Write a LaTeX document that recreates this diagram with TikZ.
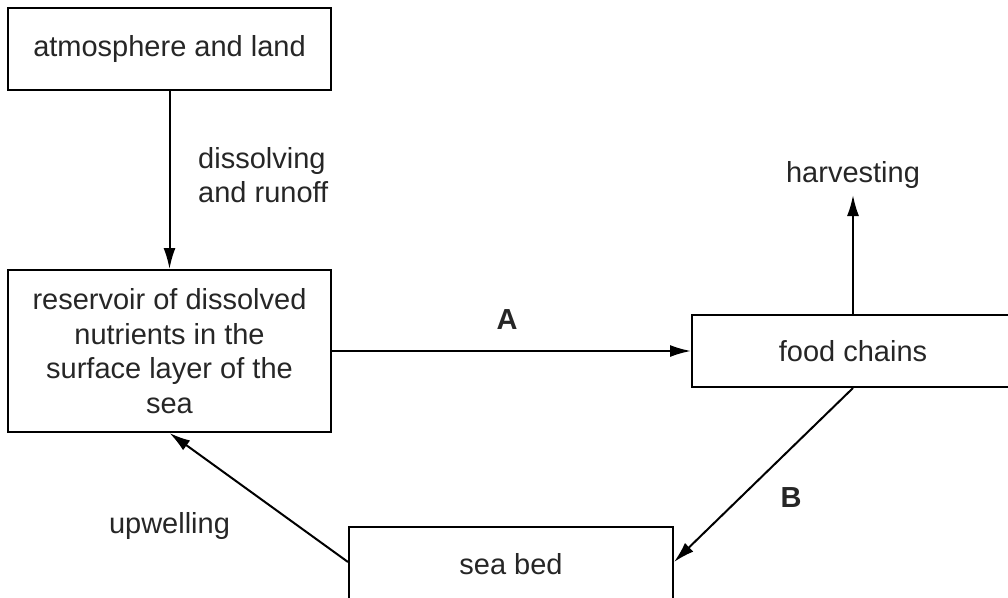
\documentclass[tikz,border=0pt]{standalone}
\usepackage{fontspec}
\setmainfont{Liberation Sans}
\usetikzlibrary{arrows.meta}
\begin{document}
\begin{tikzpicture}[
		x=1pt, y=-1pt,
		every node/.style = {font=\fontsize{29}{34.5}\selectfont, text=black!85},
		box/.style = {draw=black, line width=2pt, inner sep=0pt, align=center},
		flow/.style = {line width=2pt, -{Latex[length=21pt, width=12pt]}},
		lbl/.style = {inner sep=0pt, anchor=base},
	]
	\clip (0,0) rectangle (1008,597);
	\node[box, minimum width=323pt, minimum height=82pt] (atmos) at (169.5,49) {atmosphere and land};
	\node[box, minimum width=323pt, minimum height=162pt] (pool) at (169.5,351) {reservoir of dissolved\\nutrients in the\\surface layer of the\\sea};
	\node[box, minimum width=322pt, minimum height=72pt] (food) at (853,351) {food chains};
	\node[box, minimum width=324pt, minimum height=76pt] (seabed) at (511,565) {\raisebox{3pt}{sea bed}};
	% labels
	\node[inner sep=0pt, anchor=west, align=left] (runoff) at (198,175) {dissolving\\and runoff};
	\node[lbl] (harv) at (853,182) {harvesting};
	\node[lbl, font=\fontsize{29}{34.5}\selectfont\bfseries] (lblA) at (507,329) {A};
	\node[lbl, font=\fontsize{29}{34.5}\selectfont\bfseries] (lblB) at (791,507) {B};
	\node[lbl] (upw) at (169.5,533) {upwelling};
	\coordinate (harvtip) at (853,195);
	% arrows
	\draw[flow] (atmos) -- (pool);
	\draw[flow] (pool.east |- food) -- (food.west);
	\draw[flow] (food.north) -- (harvtip);
	\draw[flow] (food.south) -- ([yshift=3pt]seabed.east);
	\draw[flow] ([yshift=3pt]seabed.west) -- (pool.south);
\end{tikzpicture}
\end{document}
